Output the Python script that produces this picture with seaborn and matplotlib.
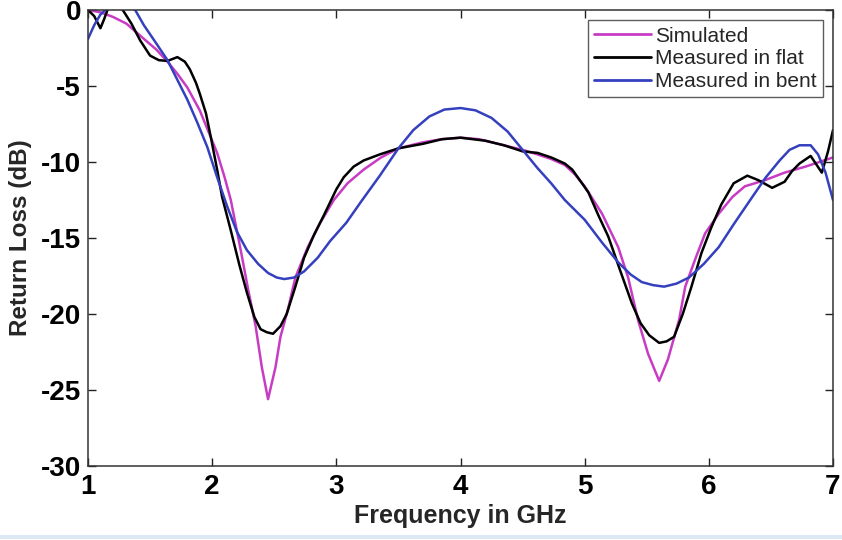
import matplotlib
matplotlib.use("Agg")
import matplotlib.pyplot as plt
import seaborn as sns
import pandas as pd

# Return loss curves (frequency in GHz, return loss in dB)
sim_freq = [1.0, 1.1, 1.2, 1.31, 1.45, 1.55, 1.64, 1.72, 1.8, 1.9, 1.97, 2.04, 2.1, 2.15,
            2.23, 2.29, 2.35, 2.40, 2.45, 2.51, 2.55, 2.61, 2.67, 2.77, 2.87, 2.98, 3.09,
            3.22, 3.36, 3.5, 3.7, 3.85, 4.0, 4.15, 4.3, 4.5, 4.62, 4.73, 4.84, 4.92, 5.0,
            5.14, 5.27, 5.35, 5.43, 5.51, 5.6, 5.67, 5.76, 5.81, 5.89, 5.97, 6.08, 6.19,
            6.29, 6.45, 6.61, 6.78, 7.0]
sim_rl = [0.0, -0.15, -0.45, -0.9, -1.9, -2.6, -3.4, -4.2, -5.1, -6.6, -8.0, -9.4, -11.0, -12.5,
          -15.8, -18.4, -20.8, -23.5, -25.6, -23.5, -21.5, -19.7, -17.6, -15.6, -14.0, -12.5, -11.4,
          -10.5, -9.7, -9.1, -8.7, -8.5, -8.4, -8.5, -8.8, -9.2, -9.5, -9.8, -10.2, -10.8, -11.6,
          -13.4, -15.6, -17.6, -20.4, -22.6, -24.4, -23.0, -20.4, -18.2, -16.4, -14.7, -13.4, -12.3,
          -11.6, -11.2, -10.7, -10.3, -9.7]

flat_freq = [1.0, 1.05, 1.1, 1.13, 1.17, 1.22, 1.28, 1.35, 1.42, 1.5, 1.57, 1.64, 1.72, 1.78,
             1.82, 1.87, 1.9, 1.95, 1.99, 2.04, 2.08, 2.15, 2.22, 2.28, 2.34, 2.39, 2.44, 2.49,
             2.55, 2.6, 2.67, 2.74, 2.82, 2.9, 3.0, 3.06, 3.14, 3.22, 3.35, 3.5, 3.7, 3.85, 4.0,
             4.2, 4.35, 4.5, 4.62, 4.73, 4.84, 4.9, 4.97, 5.03, 5.11, 5.19, 5.28, 5.38, 5.45,
             5.52, 5.6, 5.66, 5.72, 5.79, 5.86, 5.94, 6.02, 6.1, 6.2, 6.31, 6.4, 6.51, 6.61,
             6.67, 6.73, 6.82, 6.91, 6.96, 7.0]
flat_rl = [0.0, -0.4, -1.2, -0.6, 0.3, 0.4, 0.0, -0.9, -2.0, -3.0, -3.3, -3.35, -3.1, -3.4,
           -3.9, -4.8, -5.5, -6.8, -8.4, -10.5, -12.3, -14.5, -16.8, -18.6, -20.2, -21.0, -21.2, -21.3,
           -20.8, -20.0, -18.2, -16.3, -14.8, -13.5, -11.8, -11.0, -10.3, -9.9, -9.5, -9.1, -8.8, -8.5, -8.4,
           -8.6, -8.9, -9.3, -9.4, -9.7, -10.1, -10.5, -11.3, -12.0, -13.5, -14.9, -17.0, -19.3, -20.6,
           -21.4, -21.9, -21.8, -21.5, -20.0, -18.2, -16.0, -14.3, -12.8, -11.4, -10.9, -11.2, -11.7, -11.3,
           -10.6, -10.1, -9.6, -10.7, -9.3, -7.9]

bent_freq = [1.0, 1.05, 1.1, 1.14, 1.2, 1.3, 1.38, 1.45, 1.55, 1.64, 1.72, 1.8, 1.88, 1.96,
             2.04, 2.12, 2.2, 2.28, 2.37, 2.45, 2.52, 2.58, 2.66, 2.74, 2.85, 2.95, 3.08, 3.2,
             3.35, 3.5, 3.62, 3.75, 3.87, 4.0, 4.12, 4.25, 4.38, 4.5, 4.62, 4.73, 4.84, 5.0,
             5.14, 5.27, 5.37, 5.46, 5.55, 5.64, 5.74, 5.84, 5.96, 6.08, 6.2, 6.35, 6.46, 6.57,
             6.65, 6.73, 6.82, 6.88, 6.94, 7.0]
bent_rl = [-1.9, -1.0, -0.3, 0.0, 0.4, 0.4, 0.0, -1.0, -2.2, -3.3, -4.6, -5.9, -7.4, -9.0,
           -11.0, -12.9, -14.6, -15.8, -16.7, -17.3, -17.6, -17.7, -17.6, -17.2, -16.3, -15.2, -14.0, -12.6,
           -10.9, -9.1, -7.9, -7.0, -6.55, -6.45, -6.6, -7.1, -8.0, -9.2, -10.4, -11.4, -12.5, -13.8,
           -15.3, -16.6, -17.4, -17.9, -18.1, -18.2, -18.0, -17.6, -16.7, -15.6, -14.1, -12.3, -11.0, -9.9,
           -9.2, -8.9, -8.9, -9.5, -10.7, -12.5]

series_names = ["Simulated", "Measured in flat", "Measured in bent"]
series_colors = ["#C83CC4", "#000000", "#3540BE"]

x_ticks = [1, 2, 3, 4, 5, 6, 7]
y_ticks = [0, -5, -10, -15, -20, -25, -30]

df = pd.concat([
    pd.DataFrame({"freq": sim_freq, "rl": sim_rl, "curve": series_names[0]}),
    pd.DataFrame({"freq": flat_freq, "rl": flat_rl, "curve": series_names[1]}),
    pd.DataFrame({"freq": bent_freq, "rl": bent_rl, "curve": series_names[2]}),
], ignore_index=True)

sns.set_theme(style="white")
plt.rcParams["font.family"] = ["Liberation Sans", "DejaVu Sans"]

fig = plt.figure(figsize=(8.42, 5.40), dpi=100)
fig.patch.set_facecolor("white")
ax = fig.add_axes([88 / 842, 1 - 466 / 540, (833 - 88) / 842, (466 - 10) / 540])

sns.lineplot(data=df, x="freq", y="rl", hue="curve", hue_order=series_names,
             palette=series_colors, estimator=None, sort=False, linewidth=1.8, ax=ax)

ax.set_xlim(1, 7)
ax.set_ylim(-30, 0)
ax.set_xticks(x_ticks)
ax.set_yticks(y_ticks)
ax.set_xticklabels([str(t) for t in x_ticks], fontsize=20, fontweight="bold")
ax.set_yticklabels([str(t) for t in y_ticks], fontsize=20, fontweight="bold")
ax.tick_params(axis="x", pad=6)
ax.tick_params(axis="y", pad=5)
ax.tick_params(direction="in", length=6, width=1, top=True, right=True,
               bottom=True, left=True, colors="#222222", labelcolor="black")
ax.set_xlabel("Frequency in GHz", fontsize=18, fontweight="bold", labelpad=3)
ax.set_ylabel("Return Loss (dB)", fontsize=17.5, fontweight="bold", labelpad=6)
for side in ax.spines.values():
    side.set_visible(True)
    side.set_color("#333333")
    side.set_linewidth(1.1)

leg = ax.legend(loc="upper right", fontsize=15, frameon=True, fancybox=False,
                borderaxespad=0.5, handlelength=2.7, handletextpad=0.2,
                labelspacing=0.18, borderpad=0.3)
leg.get_frame().set_edgecolor("#333333")
leg.get_frame().set_linewidth(1.0)
for line in leg.get_lines():
    line.set_linewidth(2.0)

# faint rule along the bottom edge of the figure
fig.add_artist(plt.Line2D([0, 1], [3 / 540, 3 / 540], color="#DCE8F4", linewidth=3,
                          transform=fig.transFigure))

fig.savefig("out.png", dpi=100)
